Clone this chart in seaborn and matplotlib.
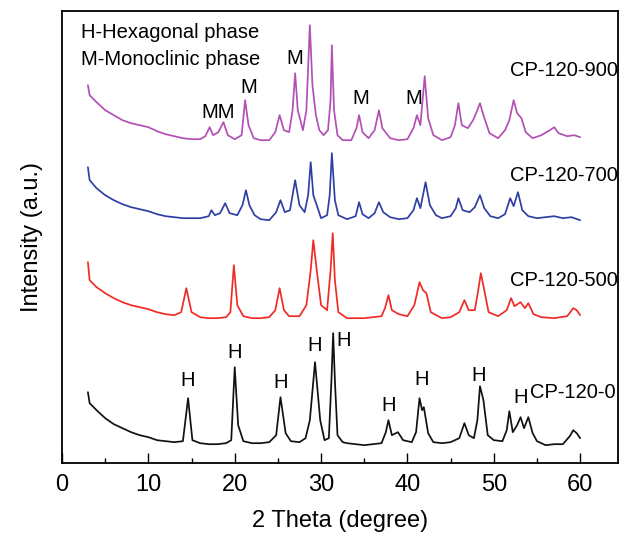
import matplotlib
matplotlib.use("Agg")
import matplotlib.pyplot as plt
from matplotlib.ticker import MultipleLocator
import seaborn as sns
import pandas as pd

# ---- data (2 Theta in degree, intensity in a.u. above each trace's baseline) ----
x_0 = [3.0, 3.2, 4, 5, 6, 7, 8, 9, 10, 11, 12, 13, 14, 14.6, 15.1, 16, 17, 18, 19, 19.6, 20.0, 20.4,
       21, 22, 23, 24, 24.8, 25.3, 25.9, 26.5, 27.5, 28.2, 28.7, 29.3, 29.9, 30.4, 30.9, 31.2, 31.4,
       31.6, 31.9, 32.5, 33, 35, 37, 37.5, 37.8, 38.2, 38.9, 39.5, 40.5, 41, 41.4, 41.7, 41.9, 42.4,
       43, 44, 45, 46, 46.6, 47.1, 47.7, 48.1, 48.4, 48.8, 49.3, 50, 51, 51.5, 51.8, 52.2, 52.7, 53.1,
       53.5, 54.0, 54.5, 55, 56, 57, 58, 58.8, 59.2, 59.6, 60]
y_0 = [53, 42, 35, 27, 21, 17, 13, 10, 8, 5, 4, 3, 4, 47, 5, 2, 1, 1, 2, 5, 78, 20,
       4, 2, 2, 3, 10, 48, 12, 4, 3, 7, 25, 83, 25, 5, 7, 65, 112,
       65, 10, 3, 2, 0, 2, 13, 25, 10, 13, 5, 3, 13, 47, 35, 38, 12,
       3, 2, 3, 7, 22, 10, 7, 25, 59, 45, 10, 5, 4, 15, 34, 13, 20, 28,
       17, 28, 12, 4, 0, 1, 1, 9, 15, 12, 7]

x_500 = [3.0, 3.2, 4, 5, 6, 7, 8, 9, 10, 11, 12, 13, 13.8, 14.4, 15, 16, 17, 18, 19, 19.5, 19.9, 20.3,
         21, 22, 23, 24, 24.7, 25.2, 25.7, 26.3, 27.5, 28.3, 28.8, 29.1, 29.5, 30.0, 30.7, 31.1, 31.35,
         31.6, 32.0, 33, 35, 37, 37.4, 37.8, 38.2, 39, 40, 40.8, 41.4, 41.8, 42.2, 42.7, 44, 45, 46,
         46.6, 47.1, 47.8, 48.2, 48.5, 48.9, 49.4, 50.5, 51.5, 52, 52.4, 53.1, 53.6, 54.0, 54.6, 55.5,
         57, 58.5, 59.2, 59.6, 60]
y_500 = [56, 38, 31, 25, 20, 16, 13, 11, 9, 6, 4, 3, 6, 30, 6, 1, 0, 0, 1, 6, 53, 13,
         2, 0, 0, 1, 8, 30, 8, 2, 2, 13, 48, 78, 48, 13, 8, 48, 85,
         38, 6, 0, 0, 2, 10, 23, 8, 4, 2, 13, 36, 28, 25, 6, 0, 1, 6,
         18, 8, 8, 28, 45, 28, 6, 2, 8, 20, 12, 16, 10, 15, 4, 1,
         0, 2, 10, 8, 3]

x_700 = [3.0, 3.2, 4, 5, 6, 7, 8, 9, 10, 11, 12, 13, 14, 15, 16, 17, 17.3, 17.7, 18.3, 18.9, 19.4,
         20.3, 20.9, 21.3, 21.7, 22.3, 23, 24, 24.8, 25.3, 25.8, 26.4, 27.0, 27.5, 28.1, 28.5, 28.8,
         29.1, 29.5, 30.0, 30.7, 31.0, 31.25, 31.6, 32.0, 33, 34, 34.4, 34.8, 35.5, 36.2, 36.7, 37.2,
         38, 39, 40, 40.7, 41.1, 41.5, 42.1, 42.6, 43.3, 44, 45, 45.6, 45.9, 46.4, 47.2, 47.8, 48.4,
         48.9, 49.6, 50.5, 51.3, 51.9, 52.3, 52.8, 53.3, 54, 55, 56, 57, 58, 59, 60]
y_700 = [53, 40, 32, 25, 20, 16, 13, 11, 9, 6, 4, 3, 2, 2, 2, 4, 10, 5, 7, 17, 7,
         5, 15, 30, 15, 5, 1, 0, 8, 20, 8, 10, 40, 15, 8, 25, 58,
         25, 15, 2, 5, 25, 67, 20, 5, 1, 4, 18, 6, 2, 7, 18, 8,
         3, 1, 2, 10, 22, 12, 38, 15, 5, 2, 4, 12, 22, 10, 8, 13, 25,
         12, 4, 2, 6, 22, 14, 28, 10, 4, 2, 3, 4, 2, 3, 0]

x_900 = [3.0, 3.2, 4, 5, 6, 7, 8, 9, 10, 11, 12, 13, 14, 15, 16, 16.6, 17.1, 17.5, 18.1, 18.7, 19.2,
         20, 20.8, 21.2, 21.6, 22.2, 23, 24, 24.7, 25.2, 25.7, 26.3, 26.7, 27.0, 27.3, 27.9, 28.3, 28.7,
         29.0, 29.4, 29.8, 30.3, 30.8, 31.1, 31.25, 31.5, 31.9, 32.5, 33.5, 34.1, 34.4, 34.8, 35.5,
         36.2, 36.7, 37.1, 38, 39, 40, 40.7, 41.1, 41.5, 42.0, 42.4, 43, 44, 45, 45.5, 45.9, 46.3, 47,
         47.6, 48.0, 48.4, 48.8, 49.5, 50.5, 51.3, 51.8, 52.3, 52.7, 53.2, 53.7, 54.5, 55.5, 56.5, 57,
         57.5, 58.5, 59.3, 60]
y_900 = [55, 45, 38, 30, 25, 20, 17, 15, 13, 9, 6, 4, 2, 1, 1, 4, 13, 5, 8, 18, 5,
         1, 5, 40, 15, 2, 0, 0, 8, 25, 10, 8, 30, 67, 30, 10, 30, 115,
         55, 25, 10, 5, 10, 40, 95, 30, 5, 0, 0, 12, 25, 8, 2,
         10, 30, 12, 2, 0, 1, 12, 25, 15, 64, 22, 5, 0, 3, 15, 37, 15, 12,
         20, 28, 37, 25, 7, 2, 10, 20, 40, 27, 22, 8, 2, 5, 10, 13,
         7, 4, 5, 3]

samples = ["CP-120-0", "CP-120-500", "CP-120-700", "CP-120-900"]
offsets = [18, 145, 243, 323]
colors = ["#111111", "#ee2c26", "#2f3fa3", "#b250b4"]
series_x = [x_0, x_500, x_700, x_900]
series_y = [y_0, y_500, y_700, y_900]

h_labels_x = [14.6, 20.0, 25.3, 29.2, 32.6, 37.8, 41.6, 48.3, 53.1]
h_labels_y = [83, 111, 81, 118, 123, 58, 84, 88, 66]
m_labels = ["MM", "M", "M", "M", "M"]
m_labels_x = [18.1, 21.6, 27.0, 34.6, 40.7]
m_labels_y = [351, 376, 405, 365, 365]
sample_label_x = [54.2, 51.9, 51.9, 51.9]
sample_label_y = [71, 183, 288, 393]

# ---- build long-form table ----
frames = []
for name, xs, ys, off in zip(samples, series_x, series_y, offsets):
    frames.append(pd.DataFrame({"theta": xs, "intensity": [v + off for v in ys], "sample": name}))
df = pd.concat(frames, ignore_index=True)

sns.set_style("white")
plt.rcParams["font.family"] = ["Liberation Sans", "DejaVu Sans"]
plt.rcParams["text.color"] = "black"
plt.rcParams["axes.labelcolor"] = "black"
plt.rcParams["xtick.color"] = "black"

fig = plt.figure(figsize=(6.2, 5.33), dpi=100)
ax = fig.add_axes([0.1, 0.131, 0.897, 0.848])

sns.lineplot(data=df, x="theta", y="intensity", hue="sample", hue_order=samples,
             palette=dict(zip(samples, colors)), estimator=None, sort=False,
             linewidth=1.25, legend=False, ax=ax)

fs = 14.5
for hx, hy in zip(h_labels_x, h_labels_y):
    ax.text(hx, hy, "H", ha="center", va="center", fontsize=fs, color="black")
for t, mx, my in zip(m_labels, m_labels_x, m_labels_y):
    ax.text(mx, my, t, ha="center", va="center", fontsize=fs, color="black")
for name, sx, sy in zip(samples, sample_label_x, sample_label_y):
    ax.text(sx, sy, name, ha="left", va="center", fontsize=fs, color="black")
ax.text(2.2, 431, "H-Hexagonal phase", ha="left", va="center", fontsize=fs, color="black")
ax.text(2.2, 404, "M-Monoclinic phase", ha="left", va="center", fontsize=fs, color="black")

ax.set_xlim(0, 64.4)
ax.set_ylim(0, 452)
ax.xaxis.set_major_locator(MultipleLocator(10))
ax.xaxis.set_minor_locator(MultipleLocator(5))
ax.set_xticks([0, 10, 20, 30, 40, 50, 60])
ax.set_yticks([])
ax.tick_params(axis="x", which="major", direction="in", length=7, width=1.0,
               labelsize=17, bottom=True, top=False, pad=8, colors="black")
ax.tick_params(axis="x", which="minor", direction="in", length=3.5, width=1.0,
               bottom=True, top=False, colors="black")
ax.set_xlabel("2 Theta (degree)", fontsize=17, labelpad=10, color="black")
ax.set_ylabel("Intensity (a.u.)", fontsize=17, labelpad=14, color="black")
for sp in ax.spines.values():
    sp.set_linewidth(1.3)
    sp.set_color("black")

fig.savefig("out.png", dpi=100)
